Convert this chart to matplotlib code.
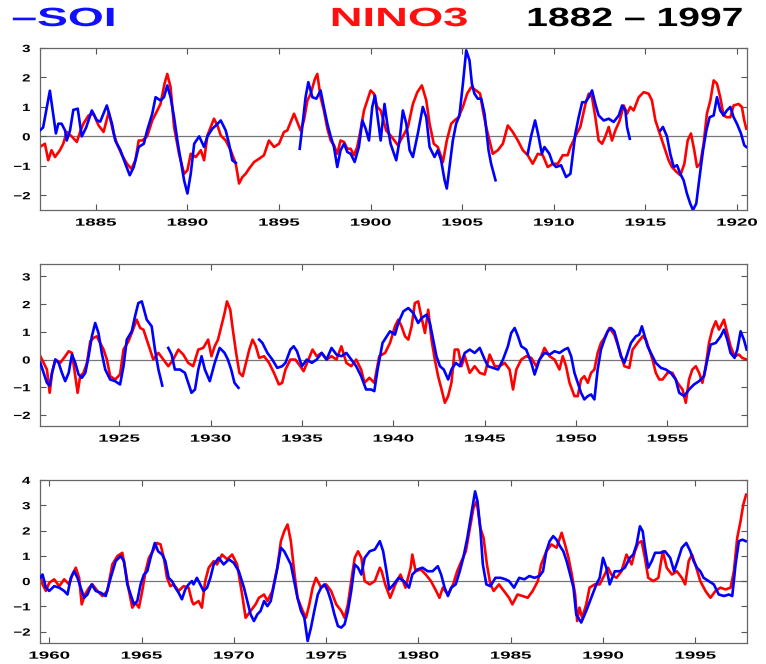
import numpy as np
import matplotlib
matplotlib.use('Agg')
import matplotlib.pyplot as plt
from matplotlib.patheffects import AbstractPathEffect
from matplotlib.transforms import Affine2D

nan = np.nan

# NINO3 (red), panel 1: 1882-1920
nino_year_1 = [1881.94, 1882.22, 1882.40, 1882.58, 1882.77, 1883.04, 1883.22, 1883.41, 1883.68, 1883.96,
               1884.14, 1884.32, 1884.60, 1884.87, 1885.15, 1885.42, 1885.70, 1885.97, 1886.15, 1886.43,
               1886.70, 1886.94, 1887.16, 1887.34, 1887.53, 1887.80, 1888.08, 1888.35, 1888.53, 1888.75,
               1888.90, 1889.08, 1889.27, 1889.54, 1889.82, 1890.00, 1890.18, 1890.46, 1890.73, 1890.91,
               1891.09, 1891.27, 1891.45, 1891.64, 1891.82, 1892.09, 1892.36, 1892.64, 1892.82, 1893.00,
               1893.18, 1893.36, 1893.64, 1893.91, 1894.18, 1894.45, 1894.73, 1895.00, 1895.27, 1895.45,
               1895.64, 1895.82, 1896.00, 1896.18, 1896.36, 1896.55, 1896.73, 1896.96, 1897.09, 1897.27,
               1897.45, 1897.64, 1897.82, 1898.00, 1898.18, 1898.36, 1898.55, 1898.73, 1898.91, 1899.09,
               1899.27, 1899.45, 1899.64, 1899.82, 1900.00, 1900.18, 1900.36, 1900.55, 1900.85, 1901.13,
               1901.49, 1901.76, 1902.04, 1902.31, 1902.55, 1902.80, 1903.04, 1903.22, 1903.45, 1903.67,
               1903.95, 1904.16, 1904.40, 1904.58, 1904.80, 1905.04, 1905.27, 1905.49, 1905.76, 1905.98,
               1906.13, 1906.31, 1906.49, 1906.67, 1906.95, 1907.22, 1907.49, 1907.76, 1908.04, 1908.31,
               1908.58, 1908.85, 1909.13, 1909.40, 1909.67, 1909.95, 1910.22, 1910.49, 1910.76, 1910.91,
               1911.18, 1911.45, 1911.73, 1911.91, 1912.09, 1912.27, 1912.45, 1912.64, 1912.82, 1913.00,
               1913.18, 1913.36, 1913.60, 1913.82, 1914.00, 1914.18, 1914.36, 1914.64, 1914.91, 1915.18,
               1915.36, 1915.55, 1915.73, 1915.91, 1916.09, 1916.27, 1916.45, 1916.69, 1916.91, 1917.13,
               1917.31, 1917.49, 1917.67, 1917.82, 1918.00, 1918.18, 1918.36, 1918.55, 1918.73, 1918.91,
               1919.09, 1919.27, 1919.45, 1919.64, 1919.82, 1920.09, 1920.27, 1920.40, 1920.51]
nino_1 = [-0.36, -0.25, -0.81, -0.47, -0.70, -0.47, -0.25, 0.15, 0.00, -0.19,
          0.15, 0.43, 0.71, 0.77, 0.37, 0.15, 0.82, 0.10, -0.25, -0.64,
          -0.93, -1.10, -0.81, -0.14, -0.14, 0.00, 0.54, 0.88, 1.10, 1.79,
          2.12, 1.67, 0.32, -0.59, -1.27, -1.15, -0.59, -0.70, -0.47, -0.81,
          0.03, 0.32, 0.60, 0.37, 0.03, -0.14, -0.47, -0.93, -1.60, -1.38,
          -1.27, -1.10, -0.87, -0.76, -0.64, -0.14, -0.36, -0.25, 0.15, 0.20,
          0.49, 0.77, 0.49, 0.20, 0.54, 1.22, 1.45, 1.95, 2.12, 1.33,
          0.88, 0.26, -0.14, -0.30, -0.59, -0.14, -0.19, -0.42, -0.42, -0.64,
          -0.36, 0.20, 0.88, 1.22, 1.56, 1.45, 1.00, 0.88, 0.20, 0.00,
          -0.30, 0.00, 0.32, 1.10, 1.50, 1.73, 1.22, 0.43, -0.25, -0.36,
          -0.87, -0.14, 0.43, 0.54, 0.65, 1.00, 1.45, 1.67, 1.56, 1.45,
          0.88, 0.32, -0.14, -0.59, -0.47, -0.25, 0.37, 0.15, -0.14, -0.47,
          -0.64, -0.93, -0.59, -0.64, -1.04, -0.93, -0.93, -0.64, -0.64, -0.36,
          0.00, 0.32, 1.10, 1.45, 1.33, 0.65, -0.14, -0.25, 0.00, 0.32,
          -0.14, 0.20, 0.54, 1.05, 0.77, 1.00, 0.88, 1.33, 1.50, 1.45,
          1.22, 0.54, 0.20, -0.14, -0.47, -0.81, -1.04, -1.20, -1.32, -0.93,
          -0.14, 0.10, -0.47, -1.04, -0.93, -0.25, 0.77, 1.22, 1.90, 1.79,
          1.33, 0.71, 0.65, 0.65, 1.05, 1.10, 1.00, 0.54, 0.26]

# NINO3, panel 2: 1920-1959
nino_year_2 = [1920.69, 1920.87, 1921.05, 1921.20, 1921.33, 1921.51, 1921.78, 1922.05, 1922.24, 1922.42,
               1922.60, 1922.73, 1922.87, 1923.05, 1923.24, 1923.42, 1923.60, 1923.78, 1923.96, 1924.15,
               1924.33, 1924.51, 1924.78, 1925.05, 1925.24, 1925.51, 1925.69, 1925.96, 1926.15, 1926.33,
               1926.51, 1926.69, 1926.87, 1927.15, 1927.42, 1927.69, 1927.96, 1928.24, 1928.51, 1928.78,
               1929.05, 1929.33, 1929.60, 1929.87, 1930.05, 1930.23, 1930.41, 1930.59, 1930.77, 1930.90,
               1931.08, 1931.22, 1931.40, 1931.58, 1931.76, 1931.94, 1932.12, 1932.30, 1932.48, 1932.66,
               1932.93, 1933.20, 1933.47, 1933.74, 1933.92, 1934.10, 1934.37, 1934.64, 1934.91, 1935.09,
               1935.36, 1935.58, 1935.81, 1936.08, 1936.35, 1936.62, 1936.89, 1937.16, 1937.43, 1937.70,
               1937.97, 1938.24, 1938.42, 1938.69, 1938.96, 1939.23, 1939.55, 1939.82, 1940.09, 1940.27,
               1940.45, 1940.64, 1940.82, 1941.00, 1941.18, 1941.36, 1941.55, 1941.73, 1941.91, 1942.09,
               1942.27, 1942.45, 1942.64, 1942.82, 1943.00, 1943.18, 1943.36, 1943.55, 1943.73, 1943.91,
               1944.18, 1944.45, 1944.73, 1945.00, 1945.27, 1945.55, 1945.82, 1946.09, 1946.36, 1946.55,
               1946.73, 1947.00, 1947.27, 1947.55, 1947.82, 1948.09, 1948.27, 1948.55, 1948.82, 1949.09,
               1949.27, 1949.45, 1949.64, 1949.91, 1950.09, 1950.27, 1950.45, 1950.64, 1950.82, 1951.00,
               1951.18, 1951.36, 1951.55, 1951.82, 1952.09, 1952.36, 1952.64, 1952.91, 1953.09, 1953.36,
               1953.64, 1953.82, 1954.00, 1954.18, 1954.36, 1954.55, 1954.73, 1955.00, 1955.27, 1955.55,
               1955.82, 1956.00, 1956.18, 1956.36, 1956.55, 1956.73, 1956.91, 1957.09, 1957.27, 1957.45,
               1957.64, 1957.82, 1958.09, 1958.27, 1958.45, 1958.67, 1958.91, 1959.09, 1959.33]
nino_2 = [0.12, -0.12, -0.36, -1.20, -0.48, 0.00, -0.12, 0.12, 0.30, 0.24,
          -0.60, -1.20, -0.60, -0.48, -0.12, 0.66, 0.78, 0.84, 0.60, 0.36,
          0.00, -0.60, -0.72, -0.54, 0.36, 0.66, 0.96, 1.44, 1.14, 1.08,
          0.72, 0.36, 0.00, 0.24, 0.00, -0.24, 0.00, 0.36, 0.18, -0.12,
          -0.24, 0.36, 0.42, 0.72, 0.12, 0.48, 0.72, 1.20, 1.68, 2.10,
          1.80, 1.08, 0.24, -0.48, -0.60, -0.12, 0.36, 0.72, 0.48, 0.06,
          0.12, -0.12, -0.48, -0.90, -0.84, -0.36, 0.00, 0.00, -0.24, -0.42,
          0.00, 0.36, 0.12, 0.24, 0.00, 0.12, 0.00, 0.48, -0.12, -0.24,
          0.00, -0.36, -0.84, -0.66, -0.84, 0.12, 0.24, 0.60, 1.20, 1.44,
          1.20, 0.84, 0.72, 1.20, 2.04, 2.10, 1.50, 0.96, 1.80, 0.72,
          0.00, -0.60, -1.08, -1.56, -1.32, -0.84, 0.36, 0.36, -0.24, 0.12,
          -0.48, -0.24, -0.48, -0.54, 0.18, -0.24, -0.24, -0.12, -0.36, -1.08,
          -0.36, 0.00, 0.12, 0.06, -0.24, 0.12, 0.42, 0.12, 0.00, -0.36,
          0.12, -0.24, -0.84, -1.32, -1.32, -0.72, -0.60, -0.84, -0.48, -0.36,
          0.24, 0.60, 0.78, 1.14, 0.90, 0.36, -0.24, -0.30, 0.36, 0.60,
          0.84, 0.72, 0.36, 0.00, -0.48, -0.72, -0.72, -0.48, -0.48, -0.84,
          -1.08, -1.56, -0.72, -0.36, -0.24, -0.48, -0.84, -0.24, 0.60, 1.08,
          1.38, 1.08, 1.44, 0.96, 0.48, 0.12, 0.18, 0.06, 0.00]

# NINO3, panel 3: 1959-1997
nino_year_3 = [1959.50, 1959.64, 1959.82, 1960.00, 1960.27, 1960.54, 1960.81, 1961.08, 1961.26, 1961.44,
               1961.62, 1961.76, 1961.94, 1962.16, 1962.34, 1962.61, 1962.88, 1963.15, 1963.42, 1963.69,
               1963.96, 1964.14, 1964.32, 1964.50, 1964.68, 1964.86, 1965.04, 1965.22, 1965.40, 1965.61,
               1965.85, 1966.03, 1966.21, 1966.38, 1966.56, 1966.74, 1967.01, 1967.28, 1967.55, 1967.73,
               1967.82, 1968.09, 1968.27, 1968.45, 1968.64, 1968.91, 1969.09, 1969.36, 1969.64, 1969.91,
               1970.18, 1970.45, 1970.64, 1970.91, 1971.18, 1971.36, 1971.64, 1971.82, 1972.09, 1972.36,
               1972.55, 1972.73, 1972.91, 1973.09, 1973.27, 1973.45, 1973.73, 1973.91, 1974.09, 1974.27,
               1974.45, 1974.73, 1975.00, 1975.27, 1975.55, 1975.82, 1976.00, 1976.18, 1976.36, 1976.55,
               1976.73, 1976.91, 1977.09, 1977.36, 1977.64, 1977.91, 1978.01, 1978.20, 1978.47, 1978.75,
               1979.03, 1979.30, 1979.58, 1979.67, 1979.85, 1980.13, 1980.40, 1980.68, 1980.96, 1981.14,
               1981.32, 1981.60, 1981.88, 1982.10, 1982.33, 1982.57, 1982.79, 1982.98, 1983.16, 1983.35,
               1983.53, 1983.71, 1983.90, 1984.08, 1984.36, 1984.63, 1984.91, 1985.09, 1985.37, 1985.64,
               1985.92, 1986.19, 1986.47, 1986.65, 1986.93, 1987.21, 1987.48, 1987.76, 1987.94, 1988.13,
               1988.31, 1988.49, 1988.60, 1988.72, 1988.87, 1989.09, 1989.27, 1989.55, 1989.82, 1990.09,
               1990.27, 1990.45, 1990.73, 1991.00, 1991.27, 1991.55, 1991.73, 1991.91, 1992.09, 1992.27,
               1992.45, 1992.73, 1993.00, 1993.24, 1993.45, 1993.73, 1994.00, 1994.27, 1994.45, 1994.64,
               1994.82, 1995.00, 1995.27, 1995.55, 1995.82, 1996.09, 1996.36, 1996.64, 1996.91, 1997.09,
               1997.27, 1997.45, 1997.60, 1997.75]
nino_3 = [0.26, -0.13, -0.39, -0.07, 0.07, -0.20, 0.07, -0.13, 0.26, 0.53,
          0.13, -0.92, -0.53, -0.26, -0.13, -0.39, -0.59, -0.39, 0.66, 0.99,
          1.12, 0.39, -0.39, -1.05, -0.86, -1.05, -0.39, 0.39, 0.92, 1.18,
          1.51, 1.45, 0.92, 0.13, -0.20, -0.13, -0.39, -0.20, -0.26, -0.79,
          -0.92, -0.79, -1.05, 0.00, 0.53, 0.79, 0.66, 1.05, 0.86, 1.05,
          0.66, -0.53, -1.45, -1.18, -0.92, -0.66, -0.53, -0.79, -0.39, 0.53,
          1.58, 1.97, 2.24, 1.58, 0.39, -0.66, -1.18, -1.45, -0.92, -0.26,
          0.13, -0.26, -0.13, -0.39, -0.92, -1.18, -1.45, -0.92, 0.00, 0.92,
          1.18, 0.92, 0.00, -0.13, 0.00, 0.53, 0.39, -0.13, -0.66, -0.13,
          0.26, -0.26, 0.53, 1.05, 0.39, 0.46, 0.26, 0.00, -0.39, -0.66,
          -0.26, -0.53, -0.13, 0.39, 0.79, 1.18, 2.11, 2.89, 3.16, 2.11,
          1.71, 0.66, -0.13, -0.39, -0.13, -0.39, -0.66, -0.92, -0.53, -0.59,
          -0.66, -0.39, 0.00, 0.66, 1.18, 1.45, 1.32, 1.91, 1.45, 0.92,
          0.26, -0.53, -1.58, -1.05, -1.45, -0.92, -0.26, -0.13, -0.13, 0.26,
          0.53, 0.26, 0.13, 0.39, 1.05, 0.66, 1.18, 1.51, 1.58, 0.92,
          0.13, 0.00, 0.13, 1.18, 0.53, 0.26, 0.39, 0.13, -0.13, 0.79,
          1.05, 0.66, 0.00, -0.39, -0.66, -0.39, -0.26, -0.33, -0.26, 0.39,
          1.71, 2.37, 3.03, 3.42]

# -SOI (blue), nan = missing data
soi_year_1 = [1881.94, 1882.12, 1882.49, 1882.67, 1882.82, 1882.95, 1883.13, 1883.32, 1883.41, 1883.59,
              1883.77, 1884.01, 1884.23, 1884.47, 1884.78, 1885.05, 1885.24, 1885.60, 1885.88, 1886.06,
              1886.34, 1886.61, 1886.85, 1887.07, 1887.34, 1887.62, 1887.80, 1888.08, 1888.26, 1888.53,
              1888.72, 1888.90, 1889.08, 1889.27, 1889.45, 1889.63, 1889.82, 1890.00, 1890.18, 1890.37,
              1890.64, 1890.91, 1891.09, 1891.36, 1891.55, 1891.82, 1892.09, 1892.27, 1892.45, 1892.64,
              1894.00,
              1896.13, 1896.27, 1896.45, 1896.60, 1896.82, 1897.04, 1897.27, 1897.45, 1897.64, 1897.82,
              1898.00, 1898.18, 1898.36, 1898.55, 1898.73, 1898.91, 1899.13, 1899.36, 1899.55, 1899.73,
              1899.91, 1900.09, 1900.24, 1900.36, 1900.55, 1900.76, 1900.91, 1901.09, 1901.40, 1901.58,
              1901.76, 1901.95, 1902.13, 1902.31, 1902.58, 1902.85, 1903.04, 1903.22, 1903.49, 1903.67,
              1903.85, 1904.04, 1904.16, 1904.31, 1904.49, 1904.67, 1904.85, 1905.04, 1905.22, 1905.40,
              1905.53, 1905.67, 1905.85, 1906.04, 1906.22, 1906.44, 1906.58, 1906.82,
              1907.50,
              1908.58, 1908.76, 1908.98, 1909.16, 1909.35, 1909.49, 1909.76, 1909.95, 1910.13, 1910.40,
              1910.67, 1910.91, 1911.18, 1911.36, 1911.55, 1911.73, 1911.91, 1912.09, 1912.27, 1912.45,
              1912.73, 1913.00, 1913.27, 1913.55, 1913.73, 1913.91, 1914.00, 1914.15,
              1915.00,
              1915.82, 1915.96, 1916.18, 1916.36, 1916.55, 1916.73, 1916.91, 1917.09, 1917.27, 1917.45,
              1917.60, 1917.78, 1917.96, 1918.15, 1918.33, 1918.51, 1918.73, 1918.91, 1919.09, 1919.27,
              1919.45, 1919.64, 1919.82, 1920.00, 1920.22, 1920.40, 1920.51]
soi_1 = [0.20, 0.30, 1.55, 0.77, 0.10, 0.43, 0.43, 0.20, -0.14, 0.20,
         0.90, 0.94, 0.00, 0.30, 0.88, 0.55, 0.50, 1.05, 0.43, -0.14,
         -0.47, -0.93, -1.32, -1.04, -0.36, -0.25, 0.20, 0.77, 1.33, 1.22,
         1.33, 1.73, 1.33, 0.65, -0.14, -0.81, -1.50, -1.94, -1.27, -0.25,
         0.00, -0.36, 0.00, 0.26, 0.37, 0.54, 0.20, -0.25, -0.81, -0.90,
         nan,
         -0.42, 0.32, 1.33, 1.84, 1.33, 1.28, 1.56, 0.99, 0.43, 0.00,
         -0.36, -1.04, -0.47, -0.25, -0.53, -0.59, -0.87, -0.36, 0.54, 0.26,
         -0.14, 1.00, 1.39, 0.77, -0.14, 1.10, 0.43, -0.25, -0.81, -0.14,
         0.88, 0.43, -0.47, -0.70, 0.10, 1.00, 0.65, -0.36, -0.70, -0.47,
         -0.81, -1.49, -1.77, -1.04, -0.14, 0.43, 0.71, 1.79, 2.92, 2.58,
         1.79, 1.45, 1.28, 1.28, 0.77, -0.47, -0.93, -1.49,
         nan,
         -0.59, 0.00, 0.54, 0.03, -0.59, -0.36, -0.59, -0.93, -1.04, -0.98,
         -1.38, -1.27, 0.10, 0.65, 1.16, 1.16, 1.33, 1.56, 1.10, 0.71,
         0.54, 0.60, 0.49, 0.71, 1.05, 0.88, 0.32, -0.08,
         nan,
         0.20, 0.32, 0.00, -0.59, -1.04, -0.98, -1.27, -1.49, -1.94, -2.28,
         -2.50, -2.28, -1.38, -0.47, 0.20, 0.65, 0.71, 1.33, 0.88, 0.71,
         0.88, 1.00, 0.65, 0.43, 0.10, -0.30, -0.36]

soi_year_2 = [1920.69, 1920.87, 1921.05, 1921.20, 1921.33, 1921.51, 1921.69, 1921.87, 1922.05, 1922.24,
              1922.42, 1922.60, 1922.78, 1922.96, 1923.15, 1923.33, 1923.51, 1923.69, 1923.87, 1924.05,
              1924.24, 1924.51, 1924.78, 1925.05, 1925.24, 1925.42, 1925.69, 1925.87, 1926.05, 1926.24,
              1926.51, 1926.78, 1926.96, 1927.15, 1927.36,
              1927.50,
              1927.69, 1927.87, 1928.05, 1928.33, 1928.60, 1928.78, 1928.96, 1929.15, 1929.33, 1929.51,
              1929.69, 1929.96, 1930.23, 1930.50, 1930.77, 1930.95, 1931.13, 1931.31, 1931.53,
              1932.00,
              1932.66, 1932.84, 1933.11, 1933.38, 1933.65, 1933.92, 1934.10, 1934.37, 1934.55, 1934.73,
              1935.00, 1935.27, 1935.54, 1935.81, 1936.08, 1936.35, 1936.62, 1936.89, 1937.16, 1937.43,
              1937.70, 1937.97, 1938.24, 1938.51, 1938.78, 1938.96, 1939.14, 1939.41, 1939.82, 1940.09,
              1940.27, 1940.55, 1940.82, 1941.09, 1941.36, 1941.55, 1941.82, 1942.00, 1942.18, 1942.36,
              1942.55, 1942.76, 1943.00, 1943.18, 1943.42, 1943.64, 1943.91, 1944.18, 1944.45, 1944.73,
              1945.00, 1945.18, 1945.45, 1945.73, 1946.00, 1946.27, 1946.45, 1946.64, 1946.82, 1947.00,
              1947.27, 1947.55, 1947.73, 1948.00, 1948.27, 1948.55, 1948.82, 1949.09, 1949.36, 1949.55,
              1949.73, 1949.91, 1950.27, 1950.45, 1950.64, 1950.82, 1951.00, 1951.18, 1951.36, 1951.55,
              1951.73, 1951.91, 1952.09, 1952.27, 1952.45, 1952.64, 1952.82, 1953.00, 1953.27, 1953.45,
              1953.60, 1953.73, 1953.91, 1954.09, 1954.36, 1954.64, 1954.91, 1955.18, 1955.45, 1955.64,
              1955.91, 1956.18, 1956.45, 1956.73, 1957.00, 1957.18, 1957.36, 1957.64, 1957.91, 1958.09,
              1958.27, 1958.45, 1958.67, 1958.82, 1959.00, 1959.18, 1959.33]
soi_2 = [-0.12, -0.48, -0.84, -0.94, -0.48, 0.00, -0.12, -0.48, -0.78, -0.48,
         0.18, -0.12, -0.54, -0.66, -0.48, 0.12, 0.84, 1.32, 0.96, 0.24,
         -0.36, -0.72, -0.78, -0.90, -0.24, 0.72, 1.02, 1.56, 2.04, 2.10,
         1.44, 1.20, 0.36, -0.36, -0.94,
         nan,
         0.42, 0.18, -0.36, -0.36, -0.48, -0.84, -1.20, -1.08, -0.36, 0.12,
         -0.36, -0.78, -0.12, 0.42, 0.24, 0.00, -0.36, -0.84, -1.02,
         nan,
         0.72, 0.60, 0.24, 0.00, -0.30, -0.24, -0.12, 0.36, 0.48, 0.30,
         -0.24, 0.00, -0.12, 0.00, 0.24, 0.00, 0.42, 0.18, 0.12, 0.24,
         0.00, -0.24, -0.60, -1.08, -1.08, -1.14, -0.36, 0.60, 1.02, 0.90,
         1.32, 1.74, 1.86, 1.68, 1.32, 1.50, 1.62, 1.32, 0.72, 0.12,
         -0.24, -0.36, -0.72, -0.36, -0.12, -0.24, 0.24, 0.36, 0.24, 0.42,
         0.00, -0.24, -0.30, -0.36, 0.00, 0.48, 0.96, 1.14, 0.84, 0.48,
         0.36, -0.12, -0.54, 0.00, 0.24, 0.18, 0.30, 0.24, 0.36, 0.42,
         0.12, -0.48, -1.20, -1.44, -1.32, -1.26, -1.44, -0.36, 0.36, 0.72,
         1.02, 1.14, 1.02, 0.60, 0.12, -0.12, 0.24, 0.60, 0.84, 0.90,
         1.20, 0.90, 0.48, 0.24, -0.12, -0.30, -0.36, -0.48, -0.72, -1.20,
         -1.32, -1.08, -0.90, -0.78, -0.60, 0.00, 0.54, 0.60, 0.84, 1.08,
         0.72, 0.24, 0.06, 0.36, 1.02, 0.72, 0.36]

soi_year_3 = [1959.50, 1959.64, 1959.82, 1960.00, 1960.27, 1960.54, 1960.81, 1960.99, 1961.17, 1961.35,
              1961.53, 1961.71, 1961.89, 1962.07, 1962.30, 1962.52, 1962.79, 1963.06, 1963.33, 1963.60,
              1963.87, 1964.05, 1964.23, 1964.41, 1964.59, 1964.77, 1964.95, 1965.13, 1965.31, 1965.49,
              1965.72, 1965.90, 1966.12, 1966.29, 1966.47, 1966.65, 1966.83, 1967.01, 1967.19, 1967.37,
              1967.55, 1967.73, 1967.82, 1968.00, 1968.18, 1968.36, 1968.55, 1968.73, 1968.91, 1969.18,
              1969.45, 1969.73, 1970.00, 1970.27, 1970.55, 1970.73, 1970.91, 1971.09, 1971.27, 1971.45,
              1971.64, 1971.82, 1972.00, 1972.18, 1972.36, 1972.55, 1972.73, 1972.91, 1973.09, 1973.27,
              1973.45, 1973.64, 1973.82, 1974.00, 1974.18, 1974.36, 1974.55, 1974.73, 1974.91, 1975.09,
              1975.27, 1975.45, 1975.64, 1975.82, 1976.00, 1976.18, 1976.36, 1976.55, 1976.73, 1976.91,
              1977.09, 1977.36, 1977.64, 1977.91, 1978.09, 1978.27, 1978.42, 1978.66, 1978.93, 1979.21,
              1979.49, 1979.67, 1979.94, 1980.22, 1980.50, 1980.77, 1981.05, 1981.23, 1981.42, 1981.60,
              1981.78, 1982.02, 1982.24, 1982.43, 1982.65, 1982.89, 1983.07, 1983.20, 1983.35, 1983.49,
              1983.68, 1983.90, 1984.17, 1984.45, 1984.72, 1984.91, 1985.18, 1985.46, 1985.74, 1986.01,
              1986.29, 1986.56, 1986.75, 1986.93, 1987.11, 1987.30, 1987.48, 1987.67, 1987.85, 1988.03,
              1988.22, 1988.40, 1988.55, 1988.82, 1989.09, 1989.36, 1989.64, 1989.82, 1990.00, 1990.18,
              1990.36, 1990.64, 1990.91, 1991.18, 1991.45, 1991.64, 1991.82, 1992.00, 1992.15, 1992.27,
              1992.45, 1992.64, 1992.82, 1993.09, 1993.36, 1993.64, 1993.85, 1994.04, 1994.27, 1994.51,
              1994.73, 1994.91, 1995.09, 1995.27, 1995.45, 1995.73, 1996.00, 1996.27, 1996.55, 1996.82,
              1997.00, 1997.18, 1997.36, 1997.55, 1997.73]
soi_3 = [0.13, 0.26, -0.26, -0.39, -0.20, -0.26, -0.39, -0.53, 0.13, 0.39,
         0.13, -0.26, -0.66, -0.53, -0.13, -0.39, -0.46, -0.59, 0.13, 0.79,
         0.99, 0.79, -0.13, -0.53, -0.92, -0.79, -0.13, 0.26, 0.39, 0.92,
         1.51, 1.18, 1.05, 0.79, 0.13, 0.00, -0.26, -0.46, -0.72, -0.33,
         -0.13, 0.00, -0.13, 0.13, -0.13, -0.39, -0.26, 0.13, 0.66, 0.92,
         0.66, 0.86, 0.72, 0.39, -0.26, -0.79, -1.32, -1.58, -1.32, -1.18,
         -0.79, -0.99, -0.79, -0.13, 0.53, 1.32, 1.18, 0.92, 0.66, 0.00,
         -0.66, -1.18, -1.45, -2.37, -1.84, -1.18, -0.53, -0.26, -0.13, -0.39,
         -0.79, -1.32, -1.78, -1.84, -1.71, -1.18, -0.39, 0.66, 0.53, 0.26,
         0.92, 1.18, 1.25, 1.58, 1.18, 0.39, -0.33, -0.13, 0.13, 0.00,
         -0.26, 0.26, 0.46, 0.53, 0.39, 0.39, 0.59, 0.26, -0.26, -0.59,
         -0.26, -0.13, 0.39, 0.92, 1.71, 2.76, 3.55, 3.16, 2.11, 0.66,
         -0.13, -0.20, 0.13, 0.13, 0.07, 0.00, -0.26, 0.13, 0.07, 0.20,
         0.13, 0.20, 0.39, 1.18, 1.58, 1.78, 1.64, 1.38, 1.18, 0.79,
         0.26, -0.26, -1.32, -1.64, -1.18, -0.66, -0.13, 0.13, 0.92, 0.53,
         -0.13, 0.39, 0.39, 0.53, 0.92, 1.05, 1.45, 2.17, 1.97, 1.32,
         0.53, 0.79, 1.12, 1.12, 1.18, 0.92, 0.39, 0.79, 1.32, 1.51,
         1.18, 0.79, 0.53, 0.39, 0.13, 0.00, -0.13, -0.53, -0.59, -0.53,
         -0.59, 0.66, 1.58, 1.64, 1.58]

panels = [
    (nino_year_1, nino_1, soi_year_1, soi_1, (1881.95, 1920.55), (-2.5, 3.0), [-2, -1, 0, 1, 2, 3]),
    (nino_year_2, nino_2, soi_year_2, soi_2, (1920.67, 1959.35), (-2.4, 3.45), [-2, -1, 0, 1, 2, 3]),
    (nino_year_3, nino_3, soi_year_3, soi_3, (1959.5, 1997.8), (-2.45, 4.0), [-2, -1, 0, 1, 2, 3, 4]),
]


# el texto del original es muy ancho: se estira en horizontal al dibujar
class Wide(AbstractPathEffect):
    def __init__(self, sx=1.5, anchor=0.5):
        super().__init__()
        self.sx = sx
        self.anchor = anchor

    def draw_path(self, renderer, gc, tpath, affine, rgbFace=None):
        ext = tpath.get_extents()
        cx = ext.x0 + self.anchor * ext.width
        t = Affine2D().translate(-cx, 0).scale(self.sx, 1).translate(cx, 0)
        renderer.draw_path(gc, tpath, t + affine, rgbFace)


fig = plt.figure(figsize=(7.66, 6.64), dpi=100)
boxes = [[0.0522, 0.6837, 0.923, 0.2440],
         [0.0522, 0.3584, 0.923, 0.2440],
         [0.0522, 0.0316, 0.923, 0.2455]]

for box, (nt, nv, st, sv, xl, yl, yt) in zip(boxes, panels):
    ax = fig.add_axes(box)
    ax.axhline(0, color='#777777', lw=0.9, zorder=1)
    ax.plot(nt, nv, color='#ff0000', lw=1.9, zorder=2)
    ax.plot(st, sv, color='#0000ff', lw=1.9, zorder=3)
    ax.set_xlim(*xl)
    ax.set_ylim(*yl)
    first = int(np.ceil(xl[0] / 5.0) * 5)
    ax.set_xticks(np.arange(first, xl[1], 5))
    ax.set_yticks(yt)
    ax.set_yticklabels(['\u2212' + str(-v) if v < 0 else str(v) for v in yt])
    ax.tick_params(direction='in', top=True, right=True, length=4, width=0.8,
                   color='#555555', labelsize=7.5)
    ax.tick_params(axis='x', pad=5.5)
    ax.tick_params(axis='y', pad=7)
    for lab in ax.get_xticklabels():
        lab.set_fontweight('bold')
        lab.set_family('Liberation Sans')
        lab.set_path_effects([Wide(1.8, 0.5)])
    for lab in ax.get_yticklabels():
        lab.set_fontweight('bold')
        lab.set_family('Liberation Sans')
        lab.set_path_effects([Wide(1.45, 1.0)])
    for sp in ax.spines.values():
        sp.set_color('#666666')
        sp.set_linewidth(0.9)

# Cabecera
fig.text(12 / 766, 0.9608, '\u2013SOI', color='#1010ff', fontsize=19, fontweight='bold',
         family='Liberation Sans', va='baseline', ha='left', path_effects=[Wide(1.75, 0.0)])
fig.text(331 / 766, 0.9608, 'NINO3', color='#ff1010', fontsize=19, fontweight='bold',
         family='Liberation Sans', va='baseline', ha='left', path_effects=[Wide(1.72, 0.0)])
fig.text(527 / 766, 0.9608, '1882 \u2013 1997', color='black', fontsize=19, fontweight='bold',
         family='Liberation Sans', va='baseline', ha='left', path_effects=[Wide(1.48, 0.0)])

fig.savefig('out.png', dpi=100)
